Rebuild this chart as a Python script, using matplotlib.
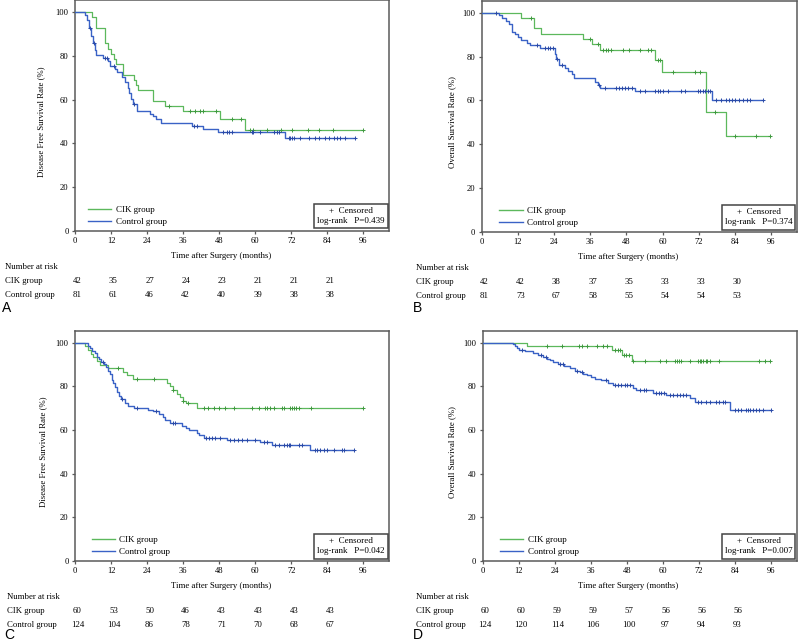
import matplotlib
matplotlib.use("Agg")
import matplotlib.pyplot as plt
import numpy as np
from matplotlib.transforms import blended_transform_factory, ScaledTranslation

plt.rcParams['font.family'] = ['Liberation Serif', 'DejaVu Serif']

# ---------------- data ----------------
risk_times = [0, 12, 24, 36, 48, 60, 72, 84]
xticks = [0, 12, 24, 36, 48, 60, 72, 84, 96]
yticks = [0, 20, 40, 60, 80, 100]
group_names = ["CIK group", "Control group"]

# Panel A: disease free survival, cohort 1
A_cik_t = [5.8, 6.9, 10.0, 11.1, 11.9, 13.0, 13.6, 16.1, 19.7, 20.3, 20.9, 26.1, 30.0, 36.1, 48.3, 56.7]
A_cik_s = [97.6, 92.9, 85.7, 83.3, 81.0, 78.6, 76.2, 71.4, 69.0, 66.7, 64.3, 59.5, 57.1, 54.6, 50.9, 45.9]
A_cik_c = [31.4, 38.3, 40.0, 41.5, 42.6, 47.0, 52.4, 55.2, 58.3, 59.4, 63.9, 68.6, 72.2, 77.4, 81.1, 85.8, 95.9]
A_ctrl_t = [3.3, 4.0, 4.5, 5.3, 6.0, 6.5, 7.0, 9.4, 11.1, 11.6, 13.3, 14.0, 15.6, 16.7, 17.6, 18.0, 18.5,
            19.2, 20.6, 25.0, 26.0, 27.0, 28.7, 38.9, 42.7, 47.7, 70.0]
A_ctrl_s = [98.8, 96.3, 92.6, 88.9, 86.0, 82.7, 80.2, 79.0, 77.5, 75.3, 74.1, 72.8, 70.4, 67.9, 65.4, 63.0, 60.5,
            58.0, 54.9, 53.6, 52.3, 51.0, 49.3, 47.8, 46.4, 45.0, 42.4]
A_ctrl_c = [5.0, 6.2, 10.0, 10.8, 13.0, 19.5, 39.7, 40.5, 49.4, 50.6, 51.3, 52.4, 58.9, 59.4, 61.7, 66.1, 67.2,
            67.8, 71.1, 71.7, 72.2, 72.8, 75.0, 77.8, 80.0, 81.1, 83.3, 84.4, 86.1, 87.2, 88.3, 90.0, 93.3]
A_risk_cik = [42, 35, 27, 24, 23, 21, 21, 21]
A_risk_ctrl = [81, 61, 46, 42, 40, 39, 38, 38]

# Panel B: overall survival, cohort 1
B_cik_t = [13.2, 17.3, 19.6, 33.6, 36.6, 39.4, 57.4, 59.8, 74.5, 81.1]
B_cik_s = [97.6, 92.9, 90.5, 88.0, 85.6, 83.0, 78.6, 72.8, 54.7, 43.8]
B_cik_c = [16.5, 35.9, 38.6, 40.3, 41.1, 41.9, 43.0, 46.9, 48.9, 52.6, 55.1, 56.3, 58.4, 59.2, 63.4, 70.9,
           72.3, 77.5, 84.1, 91.0, 95.7]
B_ctrl_t = [5.8, 6.9, 8.0, 9.1, 9.9, 11.0, 12.1, 13.2, 14.9, 16.0, 19.3, 24.2, 24.8, 25.5, 27.5, 28.7, 29.8,
            30.5, 37.5, 38.6, 39.4, 50.9, 76.5]
B_ctrl_s = [98.8, 97.5, 96.3, 95.0, 91.4, 90.1, 88.9, 87.6, 86.3, 85.1, 83.8, 81.2, 78.7, 76.0, 74.7, 73.3,
            72.0, 70.0, 68.6, 67.2, 65.8, 64.2, 60.2]
B_ctrl_c = [4.6, 18.4, 21.0, 22.0, 22.8, 23.7, 25.0, 26.5, 39.0, 41.0, 44.5, 45.5, 46.4, 47.4, 48.5, 49.7,
            52.4, 54.1, 57.4, 58.5, 59.3, 60.3, 61.8, 66.2, 67.5, 71.7, 72.5, 73.4, 74.2, 75.0, 75.8, 77.8,
            79.4, 81.1, 82.2, 83.1, 83.9, 85.3, 86.8, 87.9, 89.0, 93.2]
B_risk_cik = [42, 42, 38, 37, 35, 33, 33, 30]
B_risk_ctrl = [81, 73, 67, 58, 55, 54, 54, 53]

# Panel C: disease free survival, cohort 2
C_cik_t = [3.3, 4.4, 5.3, 6.1, 7.2, 8.3, 11.1, 16.1, 17.2, 19.4, 30.6, 31.5, 32.5, 33.8, 34.8, 35.8, 37.0, 40.5]
C_cik_s = [98.3, 96.7, 95.0, 93.3, 91.7, 90.0, 88.3, 86.7, 85.0, 83.3, 81.6, 80.0, 78.3, 76.6, 75.0, 73.3, 72.2, 70.2]
C_cik_c = [14.4, 20.6, 26.3, 32.5, 36.0, 37.5, 42.8, 44.4, 46.1, 47.8, 50.0, 52.8, 58.9, 61.1, 63.3, 63.9,
           65.0, 66.1, 68.9, 69.4, 71.7, 72.2, 73.0, 73.7, 74.4, 78.6, 95.9]
C_ctrl_t = [4.4, 5.0, 5.8, 6.5, 7.2, 8.0, 8.6, 9.5, 10.4, 11.1, 11.6, 12.2, 12.8, 13.3, 14.0, 14.6, 15.2,
            16.5, 17.8, 19.5, 24.4, 26.0, 28.1, 29.2, 30.0, 31.5, 35.6, 36.8, 38.0, 40.5, 41.4, 42.8, 50.6,
            61.7, 65.6, 78.3]
C_ctrl_s = [98.4, 97.6, 96.0, 95.2, 93.5, 92.7, 91.1, 90.3, 88.7, 87.1, 85.5, 83.1, 81.5, 79.8, 77.4, 75.8,
            74.2, 72.6, 71.0, 70.2, 69.4, 68.5, 67.3, 66.1, 64.5, 63.2, 61.7, 60.8, 59.8, 58.8, 57.5, 56.2,
            55.4, 54.5, 53.1, 50.8]
C_ctrl_c = [9.2, 15.8, 20.6, 26.8, 32.5, 33.3, 43.5, 44.7, 45.5, 46.5, 48.3, 51.7, 53.0, 54.4, 55.6, 57.2,
            60.0, 62.8, 63.9, 66.7, 67.8, 69.4, 70.6, 71.1, 71.7, 74.4, 75.6, 80.0, 80.6, 81.7, 82.8, 83.9,
            86.1, 88.9, 89.4, 92.8]
C_risk_cik = [60, 53, 50, 46, 43, 43, 43, 43]
C_risk_ctrl = [124, 104, 86, 78, 71, 70, 68, 67]

# Panel D: overall survival, cohort 2
D_cik_t = [14.9, 42.9, 46.2, 49.7]
D_cik_s = [98.3, 96.6, 94.4, 91.8]
D_cik_c = [21.3, 26.4, 32.0, 32.9, 34.6, 37.9, 40.1, 41.4, 44.0, 45.1, 45.6, 47.1, 47.8, 48.6, 50.0, 53.9,
           58.9, 61.1, 63.9, 64.5, 65.3, 66.1, 68.9, 71.6, 72.2, 72.8, 73.3, 74.2, 74.6, 75.5, 78.6, 91.9,
           93.8, 95.7]
D_ctrl_t = [10.0, 10.6, 11.3, 12.2, 14.1, 16.8, 18.5, 20.1, 21.3, 22.4, 23.5, 25.1, 27.0, 29.0, 30.7, 32.3,
            33.5, 34.6, 36.2, 37.3, 39.5, 41.7, 43.4, 50.0, 51.0, 56.7, 61.1, 68.9, 70.5, 82.2]
D_ctrl_s = [99.2, 98.4, 97.6, 96.8, 96.0, 95.2, 94.4, 93.5, 92.7, 91.9, 91.1, 90.3, 89.3, 88.3, 87.2, 86.4,
            85.6, 85.0, 84.3, 83.5, 82.7, 81.5, 80.6, 79.4, 78.5, 77.1, 76.0, 74.5, 72.7, 69.2]
D_ctrl_c = [13.0, 19.5, 21.0, 25.8, 26.8, 31.5, 33.0, 41.0, 44.0, 45.0, 46.0, 47.3, 48.0, 48.9, 52.3, 53.6,
            54.5, 57.8, 58.7, 59.5, 60.3, 62.2, 63.3, 64.5, 65.5, 66.6, 67.8, 71.6, 72.8, 74.4, 75.5, 77.7,
            78.8, 79.9, 80.8, 83.8, 84.9, 86.0, 87.7, 88.2, 88.8, 89.9, 91.0, 92.1, 93.2, 96.0]
D_risk_cik = [60, 60, 59, 59, 57, 56, 56, 56]
D_risk_ctrl = [124, 120, 114, 106, 100, 97, 94, 93]

p_values = ["0.439", "0.374", "0.042", "0.007"]
ylabels = ["Disease Free Survival Rate (%)", "Overall Survival Rate (%)",
           "Disease Free Survival Rate (%)", "Overall Survival Rate (%)"]
panel_letters = ["A", "B", "C", "D"]

# ---------------- style ----------------
W, H = 800, 642
GREEN = "#5cb85c"
GREEN_M = "#3f9a3f"
BLUE = "#3a62c6"
BLUE_M = "#2a4aa8"
FRAME = "#5a5a5a"
FS = 6.3

fig = plt.figure(figsize=(W / 100, H / 100), dpi=100)


def rect(x0, x1, ybot, height):
    return [x0 / W, 1 - ybot / H, (x1 - x0) / W, height / H]


panels = [
    dict(rect=rect(75, 389, 230.7, 230.5), cik=(A_cik_t, A_cik_s, A_cik_c), ctrl=(A_ctrl_t, A_ctrl_s, A_ctrl_c),
         risk=(A_risk_cik, A_risk_ctrl), lab_x=5, ylx=-0.096, leg_x=13, let_dy=77),
    dict(rect=rect(481.7, 796.7, 232, 231.4), cik=(B_cik_t, B_cik_s, B_cik_c), ctrl=(B_ctrl_t, B_ctrl_s, B_ctrl_c),
         risk=(B_risk_cik, B_risk_ctrl), lab_x=416, ylx=-0.08, leg_x=17.5, let_dy=76),
    dict(rect=rect(75, 389, 561, 230.3), cik=(C_cik_t, C_cik_s, C_cik_c), ctrl=(C_ctrl_t, C_ctrl_s, C_ctrl_c),
         risk=(C_risk_cik, C_risk_ctrl), lab_x=7, ylx=-0.088, leg_x=16.5, let_dy=74),
    dict(rect=rect(482.7, 796.7, 561, 230.3), cik=(D_cik_t, D_cik_s, D_cik_c), ctrl=(D_ctrl_t, D_ctrl_s, D_ctrl_c),
         risk=(D_risk_cik, D_risk_ctrl), lab_x=416, ylx=-0.083, leg_x=17.3, let_dy=74),
]


def km(ax, t, s, c, color, mcolor, lw, label):
    end = max(max(c), max(t))
    xs = [0] + list(t) + [end]
    ys = [100] + list(s) + [s[-1]]
    ax.step(xs, ys, where="post", color=color, lw=lw, label=label, zorder=3)
    levels = np.array([100] + list(s))
    idx = np.searchsorted(np.array(t), np.array(c), side="right")
    ax.plot(c, levels[idx], linestyle="none", marker="+", ms=3.2, mew=0.7, color=mcolor, zorder=4)


for i, p in enumerate(panels):
    ax = fig.add_axes(p["rect"])
    km(ax, *p["cik"], GREEN, GREEN_M, 0.9, group_names[0])
    km(ax, *p["ctrl"], BLUE, BLUE_M, 1.0, group_names[1])
    ax.set_xlim(0, 104.5)
    ax.set_ylim(0, 105.5)
    ax.set_xticks(xticks)
    ax.set_yticks(yticks)
    ax.tick_params(direction="out", length=2.5, width=0.9, color=FRAME, labelsize=FS - 0.2, pad=2,
                   top=False, right=False)
    for sp in ax.spines.values():
        sp.set_color(FRAME)
        sp.set_linewidth(1.1)
    ax.set_ylabel(ylabels[i], fontsize=FS)
    ax.yaxis.set_label_coords(p["ylx"], 50 / 105.5)

    # legend
    axw_px = p["rect"][2] * W
    leg = ax.legend(loc="lower left", bbox_to_anchor=(p["leg_x"] / axw_px, 0.02), frameon=False,
                    fontsize=FS + 0.2, handlelength=2.6, handletextpad=0.5, labelspacing=0.45,
                    borderaxespad=0, borderpad=0)
    for line in leg.get_lines():
        line.set_linewidth(1.0)

    # censored / log-rank box
    ax.text(0.986, 0.024, "+  Censored\nlog-rank   P=" + p_values[i], transform=ax.transAxes,
            ha="right", va="bottom", multialignment="center", fontsize=FS + 0.2, linespacing=1.35,
            bbox=dict(boxstyle="square,pad=0.35", fc="white", ec="#444444", lw=1.1), zorder=5)

    def off(dy):
        return ScaledTranslation(0, -dy / 100, fig.dpi_scale_trans)

    tr_data = blended_transform_factory(ax.transData, ax.transAxes)
    tr_fig = blended_transform_factory(fig.transFigure, ax.transAxes)

    ax.text(48.5, 0, "Time after Surgery (months)", transform=tr_data + off(25), ha="center", va="center",
            fontsize=FS)
    ax.text(p["lab_x"] / W, 0, "Number at risk", transform=tr_fig + off(36), ha="left", va="center",
            fontsize=FS)
    for r, (name, vals) in enumerate(zip(group_names, p["risk"])):
        dy = 50 + 14 * r
        ax.text(p["lab_x"] / W, 0, name, transform=tr_fig + off(dy), ha="left", va="center", fontsize=FS)
        for tt, v in zip(risk_times, vals):
            ax.text(tt + 0.8, 0, str(v), transform=tr_data + off(dy), ha="center", va="center", fontsize=FS)
    ax.text((p["lab_x"] - 3) / W, 0, panel_letters[i], transform=tr_fig + off(p["let_dy"]), ha="left",
            va="center", fontsize=10, family=["Liberation Sans", "DejaVu Sans"])

fig.savefig("out.png", dpi=100)
